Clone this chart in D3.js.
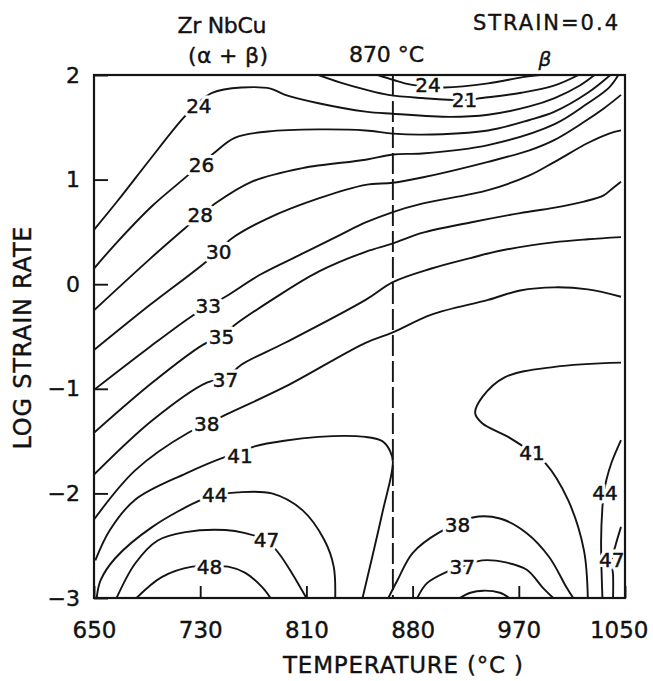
<!DOCTYPE html>
<html><head><meta charset="utf-8">
<script src="https://cdn.jsdelivr.net/npm/d3@7"></script>
<style>
body{margin:0;background:#fff}
svg{display:block}
text{font-family:"DejaVu Sans",sans-serif;fill:#111}
</style>
</head><body>
<svg id="chart" width="653" height="681"></svg>
<script>
// ---- axes ----
const xTicks = [650, 730, 810, 880, 970, 1050];
const yTicks = [-3, -2, -1, 0, 1, 2];
const phaseLineT = 867;      // "870 °C" transus line

// ---- contour lines: [temperature °C, log strain rate] ----
const c21    = [[818,2.0],[832,1.93],[849,1.86],[864,1.81],[888,1.78],[924,1.76],[939,1.78],[972,1.83],[997,1.9],[1015,2.0]];
const c24top = [[857,2.0],[868,1.95],[878,1.91],[893,1.89],[907,1.88],[944,1.92],[973,1.98],[986,2.0]];
const c24    = [[650,0.52],[668,0.80],[692,1.19],[716,1.57],[728,1.73],[739,1.83],[761,1.88],[783,1.87],[794,1.81],[818,1.73],[849,1.65],[867,1.63],[912,1.60],[944,1.62],[978,1.70],[997,1.78],[1016,1.90],[1027,2.0]];
const c26    = [[650,0.15],[668,0.41],[694,0.75],[717,1.00],[740,1.25],[756,1.40],[781,1.46],[818,1.48],[849,1.47],[867,1.44],[888,1.43],[944,1.47],[978,1.57],[997,1.65],[1022,1.83],[1039,2.0]];
const c28    = [[650,-0.25],[692,0.24],[719,0.54],[730,0.66],[740,0.76],[769,0.98],[807,1.11],[849,1.19],[867,1.24],[888,1.25],[944,1.33],[997,1.53],[1022,1.73],[1038,1.88],[1045,2.0]];
const c30    = [[650,-0.63],[692,-0.20],[734,0.21],[754,0.44],[781,0.63],[818,0.82],[849,0.95],[867,0.97],[888,1.02],[944,1.17],[978,1.28],[997,1.38],[1019,1.55],[1034,1.68],[1047,1.81]];
const c33    = [[650,-1.01],[692,-0.60],[722,-0.32],[736,-0.21],[749,-0.12],[775,0.09],[805,0.28],[832,0.47],[849,0.59],[867,0.69],[888,0.77],[944,0.90],[978,1.04],[997,1.17],[1022,1.35],[1038,1.44],[1047,1.47]];
const c35    = [[650,-1.42],[694,-0.94],[732,-0.58],[746,-0.50],[756,-0.39],[784,-0.15],[818,0.12],[849,0.31],[867,0.39],[888,0.49],[929,0.59],[971,0.68],[996,0.73],[1019,0.79],[1034,0.85],[1041,0.92],[1047,0.98]];
const c37    = [[650,-1.82],[694,-1.30],[735,-0.94],[749,-0.90],[761,-0.77],[794,-0.56],[849,-0.15],[867,0.02],[896,0.15],[929,0.25],[954,0.32],[996,0.40],[1022,0.43],[1047,0.45]];
const c38    = [[650,-2.25],[681,-1.78],[721,-1.42],[735,-1.34],[749,-1.25],[794,-0.98],[849,-0.56],[867,-0.46],[896,-0.29],[944,-0.15],[971,-0.06],[997,-0.03],[1022,-0.05],[1047,-0.12]];
const c41    = [[651,-2.64],[662,-2.35],[681,-2.06],[719,-1.81],[749,-1.65],[760,-1.61],[771,-1.55],[818,-1.46],[849,-1.46],[860,-1.50],[865,-1.59],[867,-1.70],[860,-2.19],[847,-3.0]];
const c44    = [[652,-3.0],[655,-2.83],[666,-2.62],[694,-2.32],[731,-2.06],[741,-2.02],[758,-1.99],[784,-2.0],[807,-2.16],[822,-2.45],[828,-2.70],[829,-3.0]];
const c47    = [[667,-3.0],[681,-2.67],[698,-2.45],[719,-2.37],[749,-2.35],[764,-2.38],[780,-2.45],[789,-2.57],[799,-2.76],[810,-3.0]];
const c48    = [[682,-3.0],[701,-2.80],[724,-2.70],[737,-2.70],[751,-2.70],[764,-2.76],[777,-2.90],[783,-3.0]];
const c41b   = [[1047,-0.75],[997,-0.79],[958,-0.89],[939,-1.08],[933,-1.23],[939,-1.33],[961,-1.46],[980,-1.61],[990,-1.71],[1007,-2.06],[1019,-2.54],[1022,-3.0]];
const c44b   = [[1047,-1.49],[1040,-1.70],[1036,-1.87],[1034,-2.0],[1033,-2.13],[1032,-2.45],[1033,-3.0]];
const c47b   = [[1047,-2.32],[1043,-2.49],[1040,-2.64],[1041,-2.78],[1041,-3.0]];
const c38b   = [[864,-3.0],[870,-2.83],[880,-2.57],[903,-2.37],[918,-2.30],[931,-2.23],[954,-2.24],[976,-2.38],[993,-2.61],[1006,-2.90],[1011,-3.0]];
const c37b   = [[884,-3.0],[892,-2.86],[909,-2.75],[922,-2.70],[939,-2.64],[959,-2.66],[976,-2.73],[988,-2.90],[996,-3.0]];
const cSmall = [[920,-3.0],[929,-2.95],[940,-2.93],[954,-2.95],[962,-3.0]];

// level labels: [text, temperature, log strain rate]
const levelLabels = [
  ["24",729,1.70],["26",731,1.14],["28",730,0.66],["30",744,0.31],["33",736,-0.21],
  ["35",746,-0.50],["37",749,-0.92],["38",735,-1.34],["41",760,-1.64],["44",741,-2.02],
  ["47",780,-2.45],["48",737,-2.70],["24",893,1.90],["21",924,1.76],["41",980,-1.61],
  ["44",1035,-2.0],["47",1040,-2.64],["38",918,-2.30],["37",922,-2.70]
];

const contourLines = [c21,c24top,c24,c26,c28,c30,c33,c35,c37,c38,c41,c44,c47,c48,c41b,c44b,c47b,c38b,c37b,cSmall];

// ---- layout ----
const W = 653, H = 681;
const margin = {left:94, right:28, top:75, bottom:83};
const x0 = margin.left, x1 = W - margin.right, yTop = margin.top, yBot = H - margin.bottom;
const ink = "#141414";

const x = d3.scaleLinear()
  .domain(xTicks)
  .range(xTicks.map((d,i) => x0 + i*(x1-x0)/(xTicks.length-1)));
const y = d3.scaleLinear().domain([-3,2]).range([yBot, yTop]);

const svg = d3.select("#chart");
svg.append("rect").attr("width",W).attr("height",H).attr("fill","#fff");

svg.append("clipPath").attr("id","plotClip")
  .append("rect").attr("x",x0).attr("y",yTop).attr("width",x1-x0).attr("height",yBot-yTop);

const line = d3.line().x(d=>x(d[0])).y(d=>y(d[1])).curve(d3.curveCatmullRom.alpha(0.5));

const plot = svg.append("g").attr("clip-path","url(#plotClip)");
plot.selectAll("path.contour").data(contourLines).join("path")
  .attr("class","contour")
  .attr("d", line)
  .attr("fill","none").attr("stroke",ink).attr("stroke-width",1.9);

// transus dashed line
plot.append("line")
  .attr("x1",x(phaseLineT)).attr("x2",x(phaseLineT))
  .attr("y1",yTop).attr("y2",yBot)
  .attr("stroke",ink).attr("stroke-width",1.9)
  .attr("stroke-dasharray","21,5");

// contour labels: white halo, then ink
const lab = svg.append("g");
lab.selectAll("text.halo").data(levelLabels).join("text")
  .attr("class","halo")
  .attr("x",d=>x(d[1])).attr("y",d=>y(d[2]))
  .attr("text-anchor","middle").attr("dominant-baseline","central")
  .attr("font-size",20)
  .attr("fill","#fff").attr("stroke","#fff").attr("stroke-width",7).attr("stroke-linejoin","round")
  .text(d=>d[0]);
lab.selectAll("text.lv").data(levelLabels).join("text")
  .attr("class","lv")
  .attr("x",d=>x(d[1])).attr("y",d=>y(d[2]))
  .attr("text-anchor","middle").attr("dominant-baseline","central")
  .attr("font-size",20).attr("stroke",ink).attr("stroke-width",0.5)
  .text(d=>d[0]);

// axes
const gx = svg.append("g").attr("transform",`translate(0,${yBot})`)
  .call(d3.axisBottom(x).tickValues(xTicks).tickSize(-12).tickPadding(24).tickFormat(d3.format("d")));
const gy = svg.append("g").attr("transform",`translate(${x0},0)`)
  .call(d3.axisLeft(y).tickValues(yTicks).tickSize(-14).tickPadding(14).tickFormat(d3.format("d")));
[gx,gy].forEach(g=>{
  g.select(".domain").remove();
  g.selectAll(".tick line").attr("stroke",ink).attr("stroke-width",1.9);
  g.selectAll(".tick text").attr("fill",ink).attr("stroke",ink).attr("stroke-width",0.4)
    .attr("font-family","DejaVu Sans, sans-serif");
});
gx.selectAll(".tick text").attr("font-size",23);
gx.selectAll(".tick text").filter(d=>d===xTicks[xTicks.length-1])
  .attr("text-anchor","end").attr("x",23);
gy.selectAll(".tick text").attr("font-size",22);

// frame
svg.append("rect").attr("x",x0).attr("y",yTop).attr("width",x1-x0).attr("height",yBot-yTop)
  .attr("fill","none").attr("stroke",ink).attr("stroke-width",2.2);

// titles
function title(sel){ return sel.attr("fill",ink).attr("stroke",ink).attr("stroke-width",0.4); }
title(svg.append("text")).attr("x",222).attr("y",33).attr("text-anchor","middle").attr("font-size",22)
  .attr("textLength",89).attr("lengthAdjust","spacing").text("Zr NbCu");
title(svg.append("text")).attr("x",228).attr("y",63).attr("text-anchor","middle").attr("font-size",22)
  .attr("textLength",80).attr("lengthAdjust","spacing").text("(α + β)");
title(svg.append("text")).attr("x",349).attr("y",62).attr("font-size",22)
  .attr("textLength",75).attr("lengthAdjust","spacing").text("870 °C");
title(svg.append("text")).attr("x",473).attr("y",30).attr("font-size",21)
  .attr("textLength",145).attr("lengthAdjust","spacing").text("STRAIN=0.4");
title(svg.append("text")).attr("x",545).attr("y",66).attr("text-anchor","middle").attr("font-size",20)
  .attr("font-style","italic").text("β");
title(svg.append("text")).attr("transform","translate(31,338) rotate(-90)").attr("text-anchor","middle")
  .attr("font-size",24).attr("textLength",223).attr("lengthAdjust","spacing").text("LOG STRAIN RATE");
title(svg.append("text")).attr("x",403).attr("y",673).attr("text-anchor","middle").attr("font-size",23)
  .attr("textLength",240).attr("lengthAdjust","spacing").text("TEMPERATURE (°C )");
</script>
</body></html>
